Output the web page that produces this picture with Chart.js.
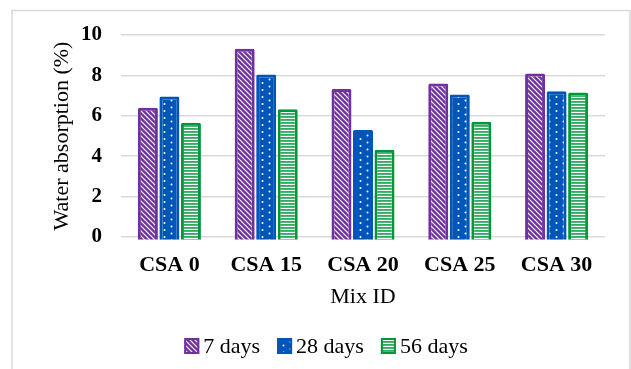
<!DOCTYPE html>
<html>
<head>
<meta charset="utf-8">
<script src="https://cdn.jsdelivr.net/npm/chart.js@4/dist/chart.umd.min.js"></script>
<style>
  html, body { margin: 0; padding: 0; background: #fff; }
  #wrap { width: 631px; height: 369px; position: relative; }
</style>
</head>
<body>
<div id="wrap"><canvas id="c" width="631" height="369"></canvas></div>
<script>
// Water absorption (%) per mix at each curing age
const categories = ['CSA 0', 'CSA 15', 'CSA 20', 'CSA 25', 'CSA 30'];
const seriesLabels = ['7 days', '28 days', '56 days'];
const days7 = [6.4, 9.32, 7.33, 7.6, 8.1];
const days28 = [6.95, 8.05, 5.3, 7.05, 7.22];
const days56 = [5.65, 6.33, 4.32, 5.7, 7.15];
const yTicks = [0, 2, 4, 6, 8, 10];

const PURPLE = '#7030A0';
const BLUE = '#0056B8';
const GREEN = '#00963A';
const SERIF = '"Liberation Serif", "Times New Roman", serif';

// Build a repeating fill from a small tile
function makePattern(base, w, h, draw) {
  const tile = document.createElement('canvas');
  tile.width = w; tile.height = h;
  const g = tile.getContext('2d');
  g.fillStyle = base;
  g.fillRect(0, 0, w, h);
  g.fillStyle = '#fff';
  g.strokeStyle = '#fff';
  draw(g, w, h);
  return document.createElement('canvas').getContext('2d').createPattern(tile, 'repeat');
}

// diagonal white stripes
const diagFill = makePattern(PURPLE, 5, 5, (g, w, h) => {
  g.lineWidth = 1.2;
  for (const k of [-w, 0, w]) {
    g.beginPath();
    g.moveTo(k - 1, -1);
    g.lineTo(k + w + 1, h + 1);
    g.stroke();
  }
});
// staggered white dots
const dotFill = makePattern(BLUE, 14, 14, (g) => {
  for (const [x, y] of [[3.5, 2.5], [10.5, 6], [3.5, 9.5], [10.5, 13]]) {
    g.beginPath(); g.arc(x, y, 1, 0, Math.PI * 2); g.fill();
  }
});
// narrow horizontal white stripes
const stripeFill = makePattern(GREEN, 10, 9, (g) => {
  for (const y of [0.7, 3.7, 6.7]) g.fillRect(0, y, 10, 1.5);
});

function barSet(label, data, fill, edge) {
  return {
    label, data,
    backgroundColor: fill,
    borderColor: edge,
    borderWidth: 3,
    borderRadius: 1.5,
    borderSkipped: 'start',
    base: -0.14,
    clip: false,
    categoryPercentage: 0.667,
    barPercentage: 0.93
  };
}

// light frame around the figure
const framePlugin = {
  id: 'frame',
  beforeDraw(chart) {
    const ctx = chart.ctx;
    ctx.save();
    ctx.fillStyle = '#fff';
    ctx.fillRect(0, 0, chart.width, chart.height);
    ctx.strokeStyle = '#d9d9d9';
    ctx.lineWidth = 1.5;
    ctx.strokeRect(12, 10.5, 618, 420);
    ctx.restore();
  }
};

// legend row: patterned swatch followed by series name
const legendPlugin = {
  id: 'ageLegend',
  afterDraw(chart) {
    const ctx = chart.ctx;
    ctx.save();
    ctx.font = '22px ' + SERIF;
    const box = 15, boxH = 16, textGap = 4, itemGap = 17;
    const items = chart.data.datasets.map(ds => ({
      text: ds.label, fill: ds.backgroundColor, edge: ds.borderColor,
      w: ctx.measureText(ds.label).width
    }));
    const total = items.reduce((s, it) => s + box + textGap + it.w, 0) + itemGap * (items.length - 1);
    let x = 326 - total / 2;
    const top = 338;
    for (const it of items) {
      ctx.fillStyle = it.fill;
      ctx.fillRect(x, top, box, boxH);
      ctx.strokeStyle = it.edge;
      ctx.lineWidth = 2;
      ctx.strokeRect(x + 1, top + 1, box - 2, boxH - 2);
      ctx.fillStyle = '#000';
      ctx.textBaseline = 'alphabetic';
      ctx.textAlign = 'left';
      ctx.fillText(it.text, x + box + textGap, 353);
      x += box + textGap + it.w + itemGap;
    }
    ctx.restore();
  }
};

new Chart(document.getElementById('c'), {
  type: 'bar',
  data: {
    labels: categories,
    datasets: [
      barSet(seriesLabels[0], days7, diagFill, PURPLE),
      barSet(seriesLabels[1], days28, dotFill, BLUE),
      barSet(seriesLabels[2], days56, stripeFill, GREEN)
    ]
  },
  options: {
    responsive: false,
    animation: false,
    events: [],
    layout: { padding: { left: 45, right: 26, top: 35, bottom: 56 } },
    plugins: {
      legend: { display: false },
      tooltip: { enabled: false }
    },
    scales: {
      x: {
        afterFit: s => { s.height = 76; },
        grid: { display: false },
        border: { display: false },
        ticks: {
          padding: 7,
          color: '#000',
          font: { family: SERIF, size: 22, weight: 'bold' }
        },
        title: {
          display: true, text: 'Mix ID', color: '#000',
          font: { family: SERIF, size: 22 },
          padding: { top: 0, bottom: 3 }
        }
      },
      y: {
        min: 0, max: 10,
        afterBuildTicks: s => { s.ticks = yTicks.map(v => ({ value: v })); },
        afterFit: s => { s.width = 76; },
        grid: { color: '#d9d9d9', lineWidth: 1.5, drawTicks: false },
        border: { display: false },
        ticks: {
          padding: 19,
          color: '#000',
          font: { family: SERIF, size: 21, weight: 'bold' }
        },
        title: {
          display: true, text: 'Water absorption (%)', color: '#000',
          font: { family: SERIF, size: 22 },
          padding: { top: 4, bottom: 0 }
        }
      }
    }
  },
  plugins: [framePlugin, legendPlugin]
});
</script>
</body>
</html>
